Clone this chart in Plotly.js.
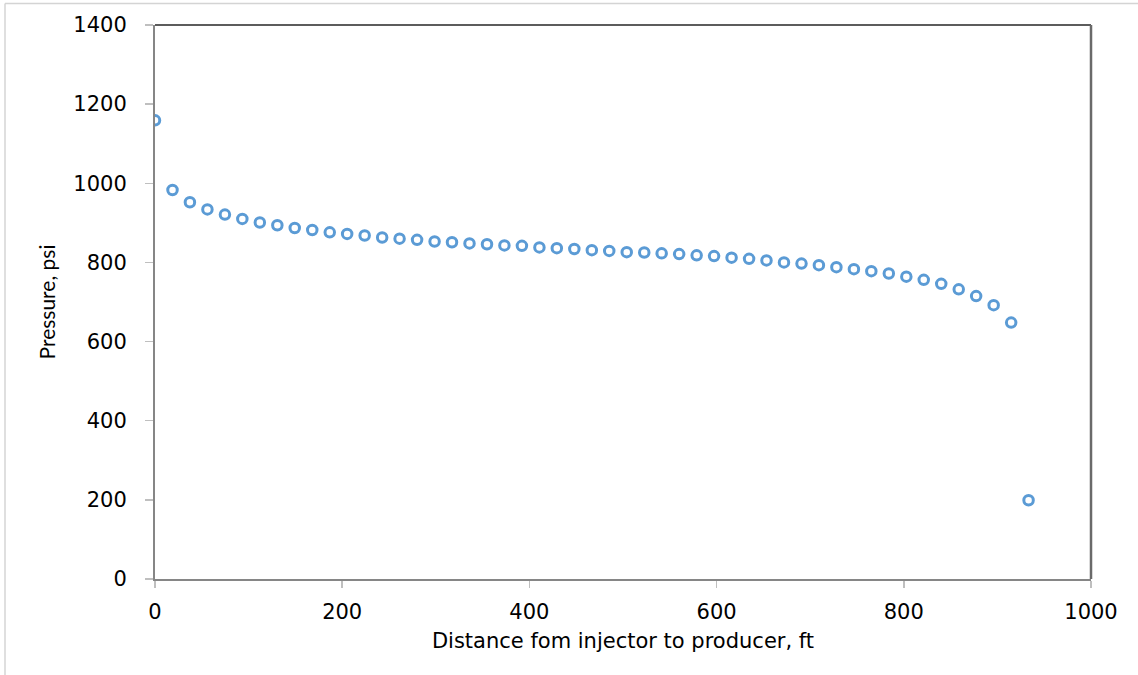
<!DOCTYPE html>
<html>
<head>
<meta charset="utf-8">
<script src="https://cdn.plot.ly/plotly-3.0.1.min.js"></script>
<style>html,body{margin:0;padding:0;background:#fff;}#chart{width:1138px;height:675px;}</style>
</head>
<body>
<div id="chart"></div>
<script>
const distanceFt = [0, 18.7, 37.3, 56.0, 74.7, 93.3, 112.0, 130.7, 149.3, 168.0,
  186.7, 205.3, 224.0, 242.7, 261.3, 280.0, 298.7, 317.3, 336.0, 354.7,
  373.3, 392.0, 410.7, 429.3, 448.0, 466.7, 485.3, 504.0, 522.7, 541.3,
  560.0, 578.7, 597.3, 616.0, 634.7, 653.3, 672.0, 690.7, 709.3, 728.0,
  746.7, 765.3, 784.0, 802.7, 821.3, 840.0, 858.7, 877.3, 896.0, 914.7, 933.3];
const pressurePsi = [1159, 983, 952, 934, 921, 910, 901, 894, 887, 882,
  876, 872, 868, 863, 860, 857, 853, 851, 848, 846,
  843, 842, 838, 836, 834, 831, 829, 826, 825, 823,
  821, 818, 816, 812, 809, 805, 800, 797, 793, 788,
  783, 778, 772, 764, 756, 746, 732, 715, 692, 648, 199];
const xTickVals = [0, 200, 400, 600, 800, 1000];
const yTickVals = [0, 200, 400, 600, 800, 1000, 1200, 1400];
const xTitle = "Distance fom injector to producer, ft";
const yTitle = "Pressure, psi";

const L = 155, R = 1091, T = 25, B = 579;
const pw = R - L, ph = B - T;

const trace = {
  x: distanceFt, y: pressurePsi, type: "scatter", mode: "markers",
  marker: {symbol: "circle-open", size: 9.5, color: "#5B9BD5", line: {width: 3, color: "#5B9BD5"}},
  hoverinfo: "x+y"
};
const tickFont = {family: "DejaVu Sans, Verdana, sans-serif", size: 21, color: "#000"};
const layout = {
  width: 1138, height: 675,
  margin: {l: L, r: 1138 - R, t: T, b: 675 - B, pad: 0},
  paper_bgcolor: "#fff", plot_bgcolor: "#fff",
  showlegend: false,
  xaxis: {
    range: [0, 1000], tickvals: xTickVals,
    showgrid: false, zeroline: false,
    showline: true, linecolor: "#868686", linewidth: 2, mirror: false,
    ticks: "outside", ticklen: 7, tickwidth: 1.5, tickcolor: "#bfbfbf",
    tickfont: tickFont, ticklabelstandoff: 6,
    title: {text: xTitle, font: {family: "DejaVu Sans, sans-serif", size: 21, color: "#000"}, standoff: 10},
    automargin: false
  },
  yaxis: {
    range: [0, 1400], tickvals: yTickVals,
    showgrid: false, zeroline: false,
    showline: true, linecolor: "#868686", linewidth: 2, mirror: false,
    ticks: "outside", ticklen: 8, tickwidth: 1.5, tickcolor: "#bfbfbf",
    tickfont: tickFont, ticklabelstandoff: 14,
    title: {text: yTitle, font: {family: "Lato, Open Sans, sans-serif", size: 21, color: "#000"}, standoff: 12},
    automargin: false
  },
  shapes: [
    {type: "line", xref: "paper", yref: "paper", x0: 0, x1: 1, y0: 1, y1: 1,
     line: {color: "#262626", width: 1.5}},
    {type: "line", xref: "paper", yref: "paper", x0: 1, x1: 1, y0: 0, y1: 1,
     line: {color: "#6a6a6a", width: 2.5}},
    {type: "line", xref: "paper", yref: "paper", x0: (5 - L) / pw, x1: 1138 / pw, y0: (B - 3.5) / ph, y1: (B - 3.5) / ph,
     line: {color: "#d4d4d4", width: 1.5}},
    {type: "line", xref: "paper", yref: "paper", x0: (5 - L) / pw, x1: (5 - L) / pw, y0: (B - 675) / ph, y1: (B - 3.5) / ph,
     line: {color: "#d4d4d4", width: 1.5}}
  ]
};
Plotly.newPlot("chart", [trace], layout, {displayModeBar: false, staticPlot: true});
</script>
</body>
</html>
